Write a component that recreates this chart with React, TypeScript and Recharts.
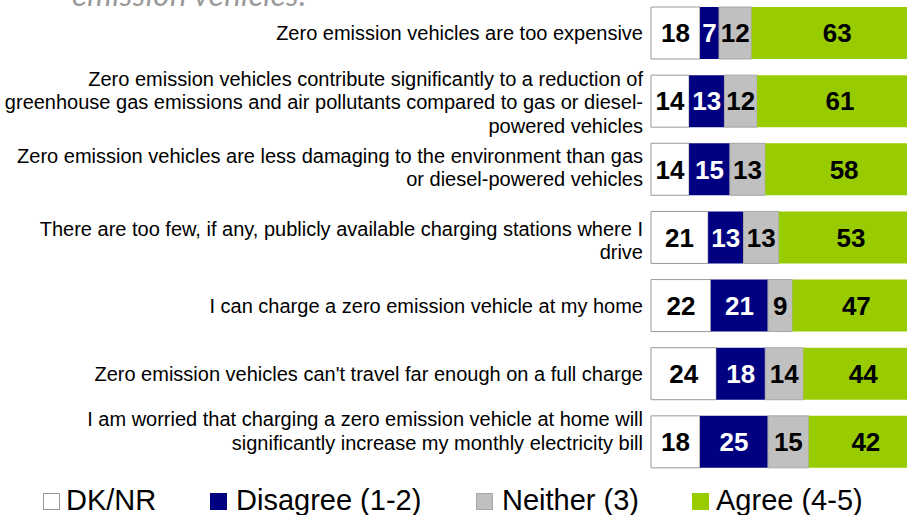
import React from 'react';
import { BarChart, Bar, XAxis, YAxis, LabelList } from 'recharts';

const categoryLines: string[][] = [
  ['Zero emission vehicles are too expensive'],
  [
    'Zero emission vehicles contribute significantly to a reduction of',
    'greenhouse gas emissions and air pollutants compared to gas or diesel-',
    'powered vehicles',
  ],
  [
    'Zero emission vehicles are less damaging to the environment than gas',
    'or diesel-powered vehicles',
  ],
  [
    'There are too few, if any, publicly available charging stations where I',
    'drive',
  ],
  ['I can charge a zero emission vehicle at my home'],
  ["Zero emission vehicles can't travel far enough on a full charge"],
  [
    'I am worried that charging a zero emission vehicle at home will',
    'significantly increase my monthly electricity bill',
  ],
];

const dknr = [18, 14, 14, 21, 22, 24, 18];
const disagree = [7, 13, 15, 13, 21, 18, 25];
const neither = [12, 12, 13, 13, 9, 14, 15];
const agree = [63, 61, 58, 53, 47, 44, 42];

const seriesNames = ['DK/NR', 'Disagree (1-2)', 'Neither (3)', 'Agree (4-5)'];
const titleText = 'emission vehicles.';

const data = categoryLines.map((lines, i) => ({
  label: lines.join(' '),
  dknr: dknr[i],
  disagree: disagree[i],
  neither: neither[i],
  agree: agree[i],
}));

const FONT = '"Liberation Sans", Arial, sans-serif';
const LINE_H = 23.5;
// small vertical nudges of the category labels (layout only)
const labelNudge = [0, 1, -2, 3, 0, 0, -11];

const CategoryTick = (props: any) => {
  const { x, y, payload } = props;
  const idx = payload && typeof payload.index === 'number' ? payload.index : 0;
  const lines = categoryLines[idx] || [String(payload.value)];
  const n = lines.length;
  const nudge = labelNudge[idx] || 0;
  return (
    <g>
      {lines.map((ln, k) => (
        <text
          key={k}
          x={x}
          y={y + (k - (n - 1) / 2) * LINE_H + 7 + nudge}
          textAnchor="end"
          fontFamily={FONT}
          fontSize={20}
          fill="#000"
        >
          {ln}
        </text>
      ))}
    </g>
  );
};

const labelStyle = { fontSize: 26, fontWeight: 'bold' as const, fontFamily: FONT };

const legendColors = [
  { fill: '#ffffff', stroke: '#999999' },
  { fill: '#000080', stroke: '#000080' },
  { fill: '#c0c0c0', stroke: '#a6a6a6' },
  { fill: '#99cc00', stroke: '#99cc00' },
];
const legendSquareX = [43, 210, 476, 692];
const legendTextX = [66, 236, 502, 716];

export default function App() {
  return (
    <div
      style={{
        position: 'fixed',
        left: 0,
        top: 0,
        width: 907,
        height: 515,
        overflow: 'hidden',
        background: '#fff',
      }}
    >
      <div style={{ position: 'absolute', left: 0, top: -22 }}>
        <BarChart
          width={940}
          height={500}
          data={data}
          layout="vertical"
          margin={{ top: 21, right: 17, bottom: 2, left: 0 }}
          barSize={52}
        >
          <XAxis type="number" domain={[0, 100]} hide />
          <YAxis
            type="category"
            dataKey="label"
            width={651}
            axisLine={false}
            tickLine={false}
            tick={<CategoryTick />}
            interval={0}
          />
          <Bar dataKey="dknr" stackId="a" fill="#ffffff" stroke="#999999" strokeWidth={1} isAnimationActive={false}>
            <LabelList dataKey="dknr" position="center" fill="#000000" style={labelStyle} />
          </Bar>
          <Bar dataKey="disagree" stackId="a" fill="#000080" isAnimationActive={false}>
            <LabelList dataKey="disagree" position="center" fill="#ffffff" style={labelStyle} />
          </Bar>
          <Bar dataKey="neither" stackId="a" fill="#c0c0c0" stroke="#a6a6a6" strokeWidth={1} isAnimationActive={false}>
            <LabelList dataKey="neither" position="center" fill="#000000" style={labelStyle} />
          </Bar>
          <Bar dataKey="agree" stackId="a" fill="#99cc00" isAnimationActive={false}>
            <LabelList dataKey="agree" position="center" fill="#000000" style={labelStyle} />
          </Bar>
        </BarChart>
      </div>
      <svg
        width={907}
        height={515}
        style={{ position: 'absolute', left: 0, top: 0, overflow: 'visible', pointerEvents: 'none' }}
      >
        <text
          x={72}
          y={6}
          fontFamily="Lato, 'Open Sans', sans-serif"
          fontStyle="italic"
          fontSize={31}
          letterSpacing={0.5}
          fill="#999999"
        >
          {titleText}
        </text>
        {seriesNames.map((name, i) => (
          <g key={name}>
            <rect
              x={legendSquareX[i] + 0.5}
              y={493.5}
              width={16}
              height={16}
              fill={legendColors[i].fill}
              stroke={legendColors[i].stroke}
            />
            <text x={legendTextX[i]} y={510} fontFamily={FONT} fontSize={29} fill="#000">
              {name}
            </text>
          </g>
        ))}
      </svg>
    </div>
  );
}
